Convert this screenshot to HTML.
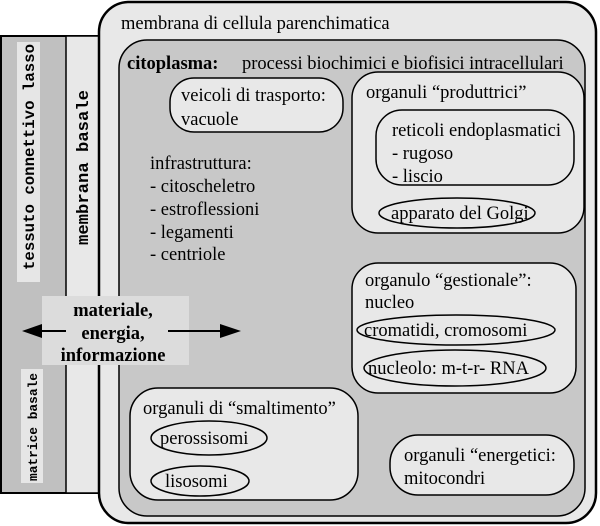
<!DOCTYPE html>
<html><head><meta charset="utf-8"><style>
html,body{margin:0;padding:0;background:#fff;}
svg{display:block;}
text{font-family:"Liberation Serif",serif;font-size:18.5px;fill:#000;}
.m{font-family:"Liberation Mono",monospace;font-weight:bold;}
</style></head><body>
<svg width="600" height="526" viewBox="0 0 600 526" xmlns="http://www.w3.org/2000/svg">
<rect x="1" y="36" width="98" height="457" fill="#c0c0c0" stroke="#000" stroke-width="2"/>
<rect x="66" y="36" width="33" height="457" fill="#e8e8e8" stroke="#000" stroke-width="1.5"/>
<rect x="17" y="42" width="23" height="240" fill="#e6e6e6"/>
<rect x="21" y="369" width="22" height="114" fill="#e6e6e6"/>
<text class="m" transform="translate(34,270) rotate(-90)" style="font-size:15.5px" textLength="226" lengthAdjust="spacingAndGlyphs">tessuto connettivo lasso</text>
<text class="m" transform="translate(88,245) rotate(-90)" style="font-size:17px" textLength="155" lengthAdjust="spacingAndGlyphs">membrana basale</text>
<text class="m" transform="translate(37,481) rotate(-90)" style="font-size:13px" textLength="108" lengthAdjust="spacingAndGlyphs">matrice basale</text>
<rect x="99" y="2" width="497" height="521" rx="30" fill="#e8e8e8" stroke="#000" stroke-width="2.5"/>
<text x="121" y="29">membrana di cellula parenchimatica</text>
<rect x="119" y="40" width="466" height="476" rx="28" fill="#c8c8c8" stroke="#000" stroke-width="1.5"/>
<text x="127" y="69" style="font-weight:bold">citoplasma:</text>
<text x="242" y="69">processi biochimici e biofisici intracellulari</text>
<rect x="170" y="78" width="173" height="54" rx="24" fill="#e8e8e8" stroke="#000" stroke-width="1.5"/>
<text x="181" y="101">veicoli di trasporto:</text>
<text x="181" y="125">vacuole</text>
<text x="150" y="169">infrastruttura:</text>
<text x="150" y="192">- citoscheletro</text>
<text x="150" y="215">- estroflessioni</text>
<text x="150" y="238">- legamenti</text>
<text x="150" y="260">- centriole</text>
<rect x="352" y="72" width="232" height="161" rx="26" fill="#e8e8e8" stroke="#000" stroke-width="1.5"/>
<text x="366" y="98">organuli “produttrici”</text>
<rect x="376" y="110" width="198" height="75" rx="26" fill="#e8e8e8" stroke="#000" stroke-width="1.5"/>
<text x="392" y="136">reticoli endoplasmatici</text>
<text x="392" y="159">- rugoso</text>
<text x="392" y="182">- liscio</text>
<ellipse cx="457" cy="213" rx="78" ry="15" fill="#e8e8e8" stroke="#000" stroke-width="1.5"/>
<text x="391" y="219">apparato del Golgi</text>
<rect x="352" y="263" width="224" height="130" rx="26" fill="#e8e8e8" stroke="#000" stroke-width="1.5"/>
<text x="365" y="286">organulo “gestionale”:</text>
<text x="365" y="308">nucleo</text>
<ellipse cx="456" cy="330" rx="99" ry="15" fill="#e8e8e8" stroke="#000" stroke-width="1.5"/>
<text x="364" y="336">cromatidi, cromosomi</text>
<ellipse cx="455" cy="368" rx="91" ry="18" fill="#e8e8e8" stroke="#000" stroke-width="1.5"/>
<text x="368" y="374">nucleolo: m-t-r- RNA</text>
<rect x="390" y="435" width="184" height="60" rx="28" fill="#e8e8e8" stroke="#000" stroke-width="1.5"/>
<text x="404" y="461">organuli “energetici:</text>
<text x="404" y="484">mitocondri</text>
<rect x="130" y="388" width="228" height="112" rx="28" fill="#e8e8e8" stroke="#000" stroke-width="1.5"/>
<text x="143" y="414">organuli di “smaltimento”</text>
<ellipse cx="209" cy="438" rx="58" ry="17" fill="#e8e8e8" stroke="#000" stroke-width="1.5"/>
<text x="160" y="444">perossisomi</text>
<ellipse cx="200" cy="481" rx="49" ry="15" fill="#e8e8e8" stroke="#000" stroke-width="1.5"/>
<text x="165" y="487">lisosomi</text>
<rect x="42" y="296" width="147" height="69" fill="#dcdcdc"/>
<text x="113" y="316" text-anchor="middle" style="font-weight:bold">materiale,</text>
<text x="113" y="339" text-anchor="middle" style="font-weight:bold">energia,</text>
<text x="113" y="361" text-anchor="middle" style="font-weight:bold">informazione</text>
<line x1="36" y1="331" x2="66" y2="331" stroke="#000" stroke-width="2"/>
<polygon points="22,331 42,324 42,338" fill="#000"/>
<line x1="168" y1="331" x2="226" y2="331" stroke="#000" stroke-width="2"/>
<polygon points="241,331 220,324 220,338" fill="#000"/>
</svg>
</body></html>
